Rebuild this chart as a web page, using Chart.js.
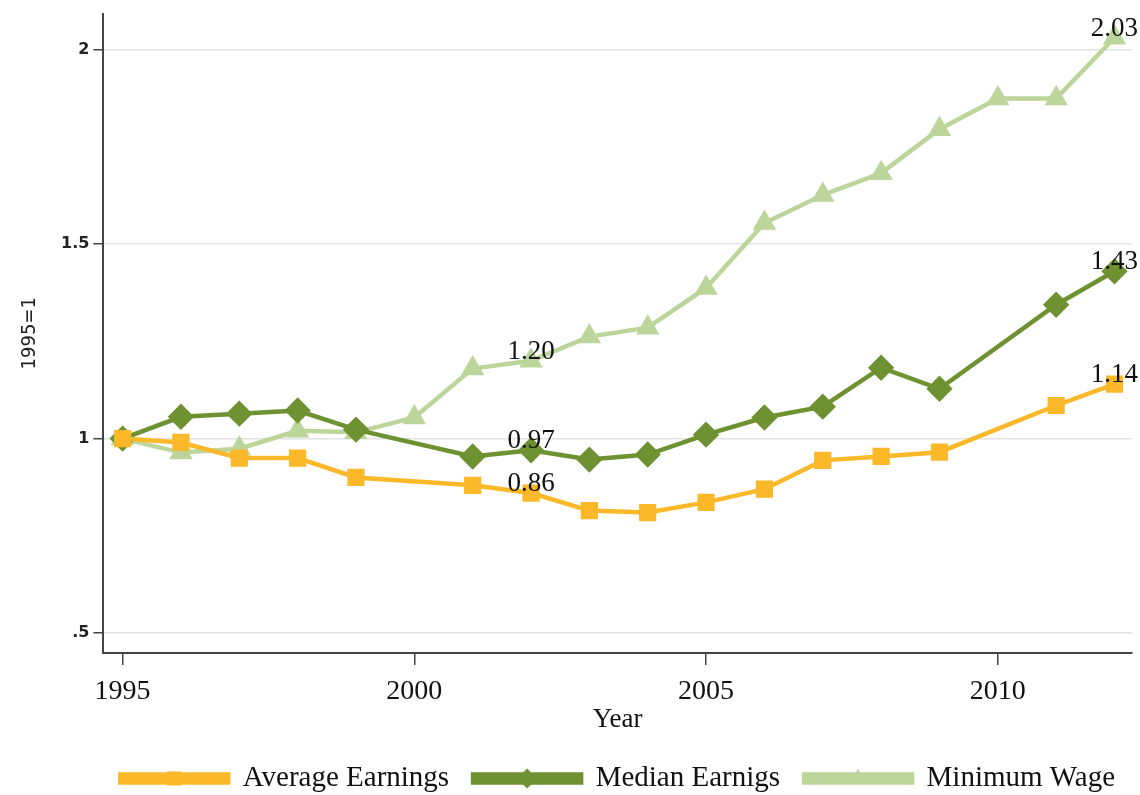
<!DOCTYPE html>
<html>
<head>
    <meta charset="UTF-8">
    <title>Earnings and minimum wage, 1995=1</title>
    <script src="https://cdn.jsdelivr.net/npm/chart.js"></script>
    <style>
        html, body { margin: 0; padding: 0; background: #fff; }
        #wrap { width: 1140px; height: 795px; }
    </style>
</head>
<body>
<div id="wrap"><canvas id="chart" width="1140" height="795"></canvas></div>
<script>
    // data
    const years = [1995, 1996, 1997, 1998, 1999, 2000, 2001, 2002, 2003, 2004, 2005, 2006, 2007, 2008, 2009, 2010, 2011, 2012];
    const averageEarnings = [1.00, 0.99, 0.95, 0.95, 0.90, null, 0.88, 0.86, 0.815, 0.81, 0.836, 0.87, 0.944, 0.954, 0.965, null, 1.085, 1.14];
    const medianEarnings = [1.00, 1.056, 1.064, 1.072, 1.023, null, 0.954, 0.97, 0.946, 0.959, 1.01, 1.054, 1.082, 1.182, 1.128, null, 1.344, 1.43];
    const minimumWage = [1.00, 0.964, 0.974, 1.02, 1.016, 1.054, 1.18, 1.20, 1.262, 1.285, 1.387, 1.554, 1.626, 1.682, 1.795, 1.874, 1.874, 2.03];
    const seriesNames = ['Average Earnings', 'Median Earnigs', 'Minimum Wage'];
    const yTicks = [0.5, 1, 1.5, 2];
    const xTicks = [1995, 2000, 2005, 2010];
    // which points carry a value label
    const labelYears = [2002, 2012];

    const serif = '"Liberation Serif", "DejaVu Serif", serif';

    function points(vals) {
        return years.map((y, i) => ({ x: y, y: vals[i] }));
    }

    // writes 0.97 / 1.20 etc. just above the chosen points
    const valueLabels = {
        id: 'valueLabels',
        afterDatasetsDraw(chart) {
            const ctx = chart.ctx;
            ctx.save();
            ctx.font = '27px ' + serif;
            ctx.fillStyle = '#111';
            ctx.textAlign = 'center';
            ctx.textBaseline = 'alphabetic';
            chart.data.datasets.forEach((ds, di) => {
                const meta = chart.getDatasetMeta(di);
                ds.data.forEach((p, i) => {
                    if (p.y == null || !labelYears.includes(p.x)) return;
                    const el = meta.data[i];
                    ctx.fillText(p.y.toFixed(2), el.x, el.y - 2);
                });
            });
            ctx.restore();
        }
    };

    // center the legend under the plot area instead of the whole canvas
    // (shift the whole box, keep its width so nothing wraps)
    const legendUnderPlot = {
        id: 'legendUnderPlot',
        afterLayout(chart) {
            const lg = chart.legend;
            if (!lg) return;
            const d = (chart.chartArea.left + chart.chartArea.right) / 2 - (lg.left + lg.right) / 2;
            lg.left += d;
            lg.right += d;
        }
    };

    // stata style legend keys: a thick line with the marker in the middle
    const legendMarkers = {
        id: 'legendMarkers',
        afterDraw(chart) {
            const legend = chart.legend;
            if (!legend || !legend.legendHitBoxes) return;
            const ctx = chart.ctx;
            const boxW = legend.options.labels.boxWidth;
            legend.legendHitBoxes.forEach((hb, i) => {
                const ds = chart.data.datasets[i];
                const cx = hb.left + boxW / 2;
                const cy = hb.top + hb.height / 2;
                ctx.save();
                ctx.fillStyle = ds.backgroundColor;
                ctx.strokeStyle = ds.borderColor;
                Chart.helpers.drawPoint(ctx, { pointStyle: ds.pointStyle, radius: 10, borderWidth: 0, rotation: 0 }, cx, cy);
                ctx.restore();
            });
        }
    };

    new Chart(document.getElementById('chart'), {
        type: 'line',
        data: {
            datasets: [
                {
                    label: seriesNames[0],
                    data: points(averageEarnings),
                    borderColor: '#FBB829',
                    backgroundColor: '#FBB829',
                    borderWidth: 4.5,
                    pointStyle: 'rect',
                    pointRadius: 9,
                    spanGaps: true
                },
                {
                    label: seriesNames[1],
                    data: points(medianEarnings),
                    borderColor: '#6E9231',
                    backgroundColor: '#6E9231',
                    borderWidth: 4.5,
                    pointStyle: 'rectRot',
                    pointRadius: 10,
                    spanGaps: true
                },
                {
                    label: seriesNames[2],
                    data: points(minimumWage),
                    borderColor: '#BCD59A',
                    backgroundColor: '#BCD59A',
                    borderWidth: 4.5,
                    pointStyle: 'triangle',
                    pointRadius: 9,
                    spanGaps: true
                }
            ]
        },
        options: {
            responsive: false,
            animation: false,
            layout: { autoPadding: false, padding: { left: 18, right: 8, top: 12, bottom: -8 } },
            plugins: {
                legend: {
                    position: 'bottom',
                    labels: {
                        boxWidth: 108,
                        boxHeight: 8,
                        padding: 24,
                        color: '#111',
                        font: { family: serif, size: 29 }
                    }
                },
                tooltip: { enabled: false }
            },
            scales: {
                x: {
                    type: 'linear',
                    min: 1994.67,
                    max: 2012.3,
                    afterBuildTicks(axis) { axis.ticks = xTicks.map(v => ({ value: v })); },
                    afterFit(axis) {
                        axis.height = 87;
                        axis.paddingLeft = 0;
                        axis.paddingRight = 0;
                    },
                    ticks: {
                        color: '#111',
                        font: { family: serif, size: 28 },
                        padding: 10,
                        callback: v => String(v)
                    },
                    grid: { drawOnChartArea: false, tickLength: 12, tickColor: '#444', lineWidth: 1.5 },
                    border: { color: '#444', width: 2 },
                    title: {
                        display: true,
                        text: 'Year',
                        color: '#111',
                        font: { family: serif, size: 27 },
                        padding: { top: 0, bottom: 4 }
                    }
                },
                y: {
                    min: 0.449,
                    max: 2.092,
                    afterBuildTicks(axis) { axis.ticks = yTicks.map(v => ({ value: v })); },
                    ticks: {
                        color: '#222',
                        font: { family: '"DejaVu Sans", sans-serif', size: 16, weight: 'bold' },
                        padding: 4,
                        callback: v => v === 0.5 ? '.5' : String(v)
                    },
                    grid: { color: '#e3e3e3', lineWidth: 1.5, tickLength: 10, tickColor: '#444' },
                    border: { color: '#444', width: 2 },
                    title: {
                        display: true,
                        text: '1995=1',
                        color: '#222',
                        font: { family: '"DejaVu Sans Condensed", "DejaVu Sans", sans-serif', size: 20 },
                        padding: { top: 0, bottom: 15 }
                    }
                }
            }
        },
        plugins: [valueLabels, legendUnderPlot, legendMarkers]
    });
</script>
</body>
</html>
